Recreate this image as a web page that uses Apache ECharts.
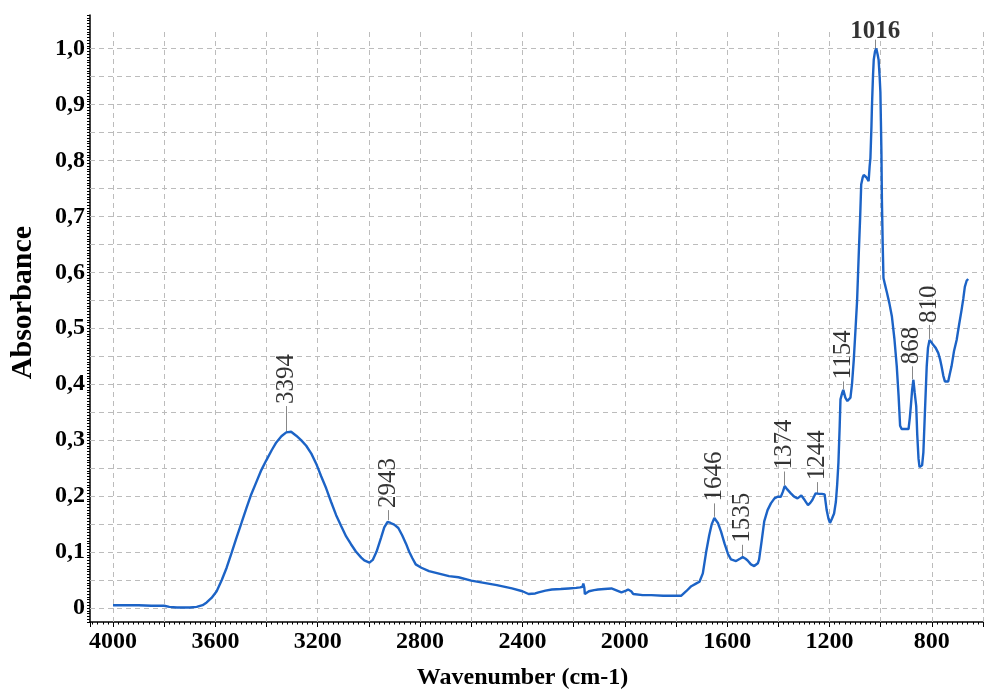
<!DOCTYPE html>
<html>
<head>
<meta charset="utf-8">
<script src="https://cdn.jsdelivr.net/npm/echarts@6/dist/echarts.min.js"></script>
<style>
html,body{margin:0;padding:0;background:#fff;}
#chart{width:984px;height:695px;}
</style>
</head>
<body>
<div id="chart"></div>
<script>
// ---- data ----
const wavenumbers = [4000,3950,3900,3850,3800,3780,3750,3700,3673,3650,3634,3615,3595,3575,3556,3537,3518,3498,3479,3460,3440,3420,3401,3380,3362,3342,3323,3304,3284,3265,3245,3225,3206,3187,3167,3148,3128,3108,3089,3070,3051,3030,3018,2998,2985,2970,2953,2940,2927,2915,2901,2885,2870,2855,2843,2830,2817,2795,2765,2730,2687,2650,2600,2550,2500,2441,2400,2376,2350,2337,2310,2285,2250,2220,2190,2175,2165,2162,2158,2156,2140,2120,2104,2080,2052,2035,2013,1995,1987,1975,1967,1930,1896,1850,1800,1779,1760,1740,1720,1708,1695,1682,1670,1660,1650,1646,1636,1624,1610,1597,1585,1565,1550,1539,1528,1520,1507,1494,1480,1475,1465,1455,1442,1429,1415,1403,1390,1382,1375,1365,1351,1338,1325,1310,1297,1284,1275,1267,1254,1240,1230,1219,1211,1204,1198,1190,1182,1175,1170,1165,1160,1157,1150,1146,1138,1130,1118,1112,1105,1098,1092,1085,1080,1076,1070,1066,1060,1056,1047,1043,1040,1036,1034,1030,1027,1022,1017,1012,1008,1004,1001,999,997,995,992,989,983,976,966,956,946,937,930,924,918,911,900,891,886,882,877,872,867,861,857,852,848,843,838,833,827,820,815,809,800,794,785,775,768,762,755,749,742,736,730,723,713,703,694,684,677,671,664,658];
const absorbance = [0.005,0.005,0.005,0.004,0.004,0.002,0.001,0.001,0.002,0.005,0.010,0.018,0.030,0.050,0.072,0.098,0.125,0.152,0.178,0.203,0.225,0.247,0.264,0.282,0.296,0.307,0.314,0.315,0.308,0.300,0.290,0.276,0.258,0.236,0.214,0.190,0.166,0.146,0.128,0.114,0.101,0.090,0.085,0.081,0.086,0.101,0.125,0.144,0.154,0.152,0.149,0.143,0.130,0.115,0.101,0.089,0.078,0.072,0.066,0.062,0.057,0.055,0.049,0.045,0.041,0.035,0.030,0.025,0.026,0.028,0.031,0.033,0.034,0.035,0.036,0.037,0.038,0.044,0.036,0.025,0.030,0.032,0.033,0.034,0.035,0.032,0.028,0.031,0.033,0.030,0.025,0.023,0.023,0.022,0.022,0.022,0.030,0.039,0.044,0.047,0.062,0.100,0.130,0.150,0.161,0.163,0.152,0.137,0.115,0.097,0.087,0.084,0.088,0.091,0.088,0.085,0.078,0.075,0.080,0.087,0.120,0.155,0.175,0.187,0.196,0.199,0.199,0.208,0.218,0.212,0.205,0.199,0.196,0.201,0.193,0.184,0.188,0.193,0.205,0.204,0.204,0.203,0.175,0.160,0.152,0.160,0.169,0.190,0.220,0.260,0.326,0.373,0.385,0.390,0.376,0.370,0.376,0.400,0.444,0.500,0.550,0.640,0.700,0.757,0.770,0.774,0.772,0.770,0.763,0.790,0.804,0.860,0.897,0.950,0.980,0.995,1.000,0.990,0.980,0.950,0.922,0.870,0.816,0.727,0.650,0.590,0.578,0.565,0.545,0.521,0.480,0.432,0.380,0.326,0.320,0.320,0.320,0.320,0.340,0.361,0.390,0.408,0.385,0.361,0.310,0.267,0.252,0.249,0.255,0.278,0.350,0.432,0.465,0.479,0.474,0.470,0.465,0.456,0.445,0.432,0.415,0.405,0.405,0.405,0.418,0.432,0.460,0.479,0.505,0.532,0.553,0.574,0.585,0.588];

// peak annotations
const peakLabels = ['3394','2943','1646','1535','1374','1244','1154','868','810','1016'];
const peakX      = [3324, 2923, 1650, 1542, 1375, 1247, 1146, 878, 809, 1021];
const peakLineLo = [0.315, 0.157, 0.163, 0.092, 0.219, 0.205, 0.391, 0.409, 0.481, 1.000];
const peakLineHi = [0.361, 0.175, 0.187, 0.113, 0.244, 0.225, 0.405, 0.432, 0.506, 1.016];

// axis ticks / grid
const xTickLabels = [4000,3600,3200,2800,2400,2000,1600,1200,800];
const yTickLabels = [0,0.1,0.2,0.3,0.4,0.5,0.6,0.7,0.8,0.9,1.0];
const xGridValues = [4000,3800,3600,3400,3200,3000,2800,2600,2400,2200,2000,1800,1600,1400,1200,1000,800,600];
const yGridValues = [0,0.05,0.1,0.15,0.2,0.25,0.3,0.35,0.4,0.45,0.5,0.55,0.6,0.65,0.7,0.75,0.8,0.85,0.9,0.95,1.0];

const X_MIN = 600, X_MAX = 4090, Y_MIN = -0.025, Y_MAX = 1.06, GRID_TOP_VAL = 1.03;

const FONT = "'Liberation Serif','Times New Roman',serif";
const gridLine = {color:'#bcbcbc', width:1, type:[5,4]};

const seriesData = wavenumbers.map((w,i)=>[w, absorbance[i]]);

const gridMarkData = [];
yGridValues.forEach(v=>gridMarkData.push([{coord:[X_MAX, v]},{coord:[X_MIN, v]}]));
xGridValues.forEach(v=>gridMarkData.push([{coord:[v, Y_MIN]},{coord:[v, GRID_TOP_VAL]}]));

const tickMarkData = peakX.map((x,i)=>[{coord:[x, peakLineLo[i]]},{coord:[x, peakLineHi[i]]}]);

const labelData = peakX.map((x,i)=>{
  const horiz = peakLabels[i] === '1016';
  return {
    value:[x, peakLineHi[i]],
    name: peakLabels[i],
    label: horiz ? {
      show:true, position:'top', distance:-4, rotate:0, color:'#000',
      fontFamily:FONT, fontWeight:'bold', fontSize:25, align:'center', verticalAlign:'bottom'
    } : {
      show:true, position:'top', distance:2, rotate:90, color:'#000',
      fontFamily:FONT, fontWeight:'normal', align:'left', verticalAlign:'middle', fontSize:25
    }
  };
});

const chart = echarts.init(document.getElementById('chart'), null, {renderer:'canvas'});
chart.setOption({
  animation:false,
  backgroundColor:'#ffffff',
  grid:{left:86, right:1, top:15, bottom:67, containLabel:false},
  xAxis:{
    type:'value', inverse:true, min:X_MIN, max:X_MAX, interval:200,
    name:'Wavenumber (cm-1)', nameLocation:'middle', nameGap:44,
    nameTextStyle:{fontFamily:FONT, fontWeight:'bold', fontSize:24, color:'#000', padding:[0,28,0,0]},
    axisLine:{show:true, onZero:false, lineStyle:{color:'#000', width:1.5}},
    axisTick:{show:true, inside:false, length:5, lineStyle:{color:'#000', width:1}},
    minorTick:{show:true, splitNumber:10, length:2.5, lineStyle:{color:'#000', width:1}},
    splitLine:{show:false},
    axisLabel:{
      fontFamily:FONT, fontWeight:'bold', fontSize:24, color:'#000', margin:8,
      showMinLabel:false, showMaxLabel:false,
      formatter:(v)=> xTickLabels.indexOf(Math.round(v))>=0 ? String(Math.round(v)) : ''
    }
  },
  yAxis:{
    type:'value', min:Y_MIN, max:Y_MAX, interval:0.005,
    name:'Absorbance', nameLocation:'middle', nameGap:52, nameRotate:90,
    nameTextStyle:{fontFamily:FONT, fontWeight:'bold', fontSize:30, color:'#000', padding:[0,0,0,32]},
    axisLine:{show:true, onZero:false, lineStyle:{color:'#000', width:1.5}},
    axisTick:{show:true, inside:false, length:3, lineStyle:{color:'#000', width:1}},
    splitLine:{show:false},
    axisLabel:{
      fontFamily:FONT, fontWeight:'bold', fontSize:24, color:'#000', margin:5,
      formatter:(v)=>{
        const r = Math.round(v*1000);
        const hit = yTickLabels.find(t=>Math.round(t*1000)===r);
        if (hit === undefined) return '';
        return r===0 ? '0' : hit.toFixed(1).replace('.',',');
      }
    }
  },
  series:[
    {
      type:'line', data:seriesData, showSymbol:false, smooth:false,
      lineStyle:{color:'#1c63c6', width:2.4}, itemStyle:{color:'#1c63c6'},
      z:5,
      markLine:{
        silent:true, symbol:['none','none'], label:{show:false},
        lineStyle:gridLine, animation:false,
        data:gridMarkData, z:1
      }
    },
    {
      type:'scatter', data:labelData, symbolSize:0, z:6, silent:true,
      label:{fontFamily:FONT, color:'#000', formatter:(p)=>p.name},
      markLine:{
        silent:true, symbol:['none','none'], label:{show:false},
        lineStyle:{color:'#888', width:1, type:'solid'}, animation:false,
        data:tickMarkData
      }
    }
  ]
});
</script>
</body>
</html>
